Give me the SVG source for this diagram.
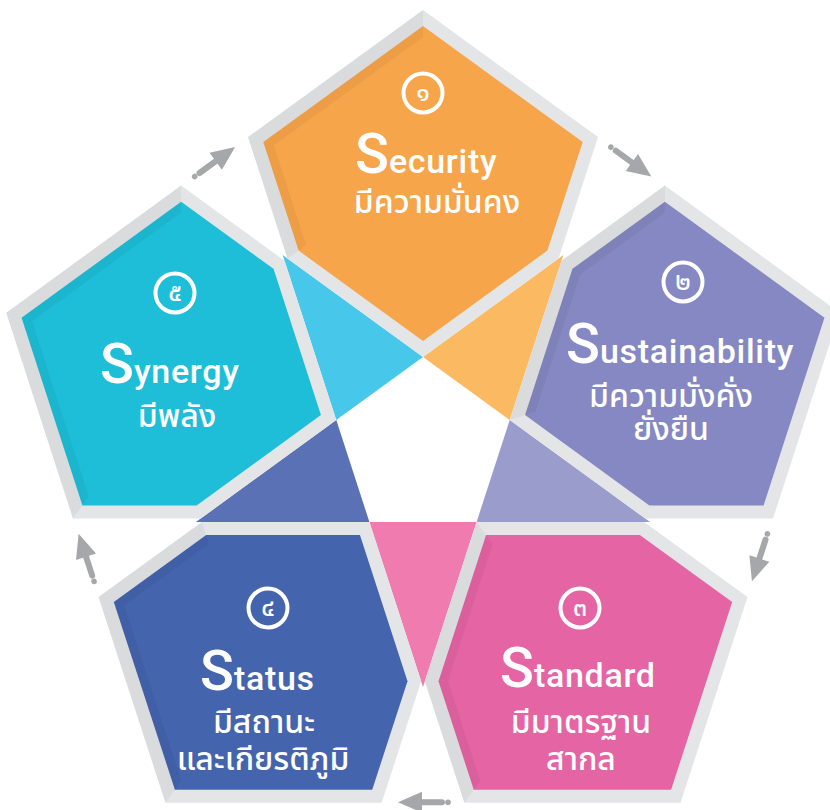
<svg xmlns="http://www.w3.org/2000/svg" xmlns:xlink="http://www.w3.org/1999/xlink" width="830" height="810" viewBox="0 0 830 810">
<style>
.en{font-family:Roboto,"Noto Sans",sans-serif;font-weight:500;fill:#fff;font-size:34px;letter-spacing:0.7px}
.big{font-size:56px;letter-spacing:0}
.th{font-family:"Noto Sans Thai","Noto Sans","DejaVu Sans",sans-serif;font-weight:500;fill:#fff;font-size:32px;text-anchor:middle}
.num{font-family:"Noto Sans Thai","Noto Sans","DejaVu Sans",sans-serif;font-weight:500;fill:#fff;font-size:25px;text-anchor:middle}
.ring{fill:none;stroke:#fff;stroke-width:4}
.frame{fill:#e4e5e7}
.shade{fill:#000;fill-opacity:0.045}
.arrow{fill:#a6a7aa}
</style>
<defs>
<polygon id="outer" points="0,-438.2 175,-311.2 135.5,-189.6 0,-91.2 -135.5,-189.6 -175,-311.2"/>
<polygon id="inner" points="0,-422.1 159.7,-306.2 124.4,-197.6 0,-107.3 -124.4,-197.6 -159.7,-306.2"/>
<polygon id="tri" points="0,-91.2 86.7,-28.2 140.4,-193.2"/>
<g id="band4" class="shade">
<polygon points="-135.5,-189.6 -175,-311.2 0,-438.2 0,-422.1 -159.7,-306.2 -124.4,-197.6"/>
<polygon points="-124.4,-197.6 -159.7,-306.2 0,-422.1 0,-410.98 -149.1,-302.8 -116.75,-203.16"/>
</g>
<g id="band3" class="shade">
<polygon points="0,-91.2 -135.5,-189.6 -175,-311.2 -159.7,-306.2 -124.4,-197.6 0,-107.3"/>
<polygon points="0,-107.3 -124.4,-197.6 -159.7,-306.2 -149.1,-302.8 -116.75,-203.16 0,-118.42"/>
</g>
<g id="band1" class="shade">
<polygon points="175,-311.2 135.5,-189.6 0,-91.2 0,-107.3 124.4,-197.6 159.7,-306.2"/>
<polygon points="159.7,-306.2 124.4,-197.6 0,-107.3 0,-118.42 116.75,-203.16 149.1,-302.8"/>
</g>
<g id="band0" class="shade">
<polygon points="0,-438.2 175,-311.2 135.5,-189.6 124.4,-197.6 159.7,-306.2 0,-422.1"/>
<polygon points="0,-422.1 159.7,-306.2 124.4,-197.6 116.75,-203.16 149.1,-302.8 0,-410.98"/>
</g>
<g id="band5" class="shade">
<polygon points="-175,-311.2 0,-438.2 175,-311.2 159.7,-306.2 0,-422.1 -159.7,-306.2"/>
<polygon points="-159.7,-306.2 0,-422.1 159.7,-306.2 149.1,-302.8 0,-410.98 -149.1,-302.8"/>
</g>
<g id="arrow">
<circle cx="-25" cy="0" r="2.8"/>
<path d="M-19,-3 L3,-3 L3,3 L-19,3 A3,3 0 0 1 -19,-3 Z"/>
<polygon points="1,-10.5 25,0 1,10.5"/>
</g>
</defs>
<g id="triangles">
<use xlink:href="#tri" fill="#fbb962" transform="translate(423 448.2)"/>
<use xlink:href="#tri" fill="#9a9dcc" transform="translate(423 448.2) rotate(72)"/>
<use xlink:href="#tri" fill="#f07bae" transform="translate(423 448.2) rotate(144)"/>
<use xlink:href="#tri" fill="#5a71b6" transform="translate(423 448.2) rotate(216)"/>
<use xlink:href="#tri" fill="#47c7e9" transform="translate(423 448.2) rotate(288)"/>
</g>
<g id="node-security">
<g transform="translate(423 448.2)">
<use xlink:href="#outer" class="frame"/>
<use xlink:href="#inner" fill="#f7a54a"/>
<use xlink:href="#band4"/>
</g>
<circle class="ring" cx="423" cy="93" r="19.5"/>
<text class="num" x="423" y="101">๑</text>
<text class="en" x="355" y="173"><tspan class="big">S</tspan>ecurity</text>
<text class="th" x="437" y="213">มีความมั่นคง</text>
</g>
<g id="node-sustainability">
<g transform="translate(423 448.2) rotate(72)">
<use xlink:href="#outer" class="frame"/>
<use xlink:href="#inner" fill="#8588c2"/>
<use xlink:href="#band3"/>
</g>
<circle class="ring" cx="683" cy="282" r="19.5"/>
<text class="num" x="683" y="290">๒</text>
<text class="en" x="566" y="363"><tspan class="big">S</tspan>ustainability</text>
<text class="th"><tspan x="671" y="407">มีความมั่งคั่ง</tspan><tspan x="671" y="440">ยั่งยืน</tspan></text>
</g>
<g id="node-standard">
<g transform="translate(423 448.2) rotate(144)">
<use xlink:href="#outer" class="frame"/>
<use xlink:href="#inner" fill="#e464a4"/>
<use xlink:href="#band1"/>
</g>
<circle class="ring" cx="580" cy="608" r="19.5"/>
<text class="num" x="580" y="616">๓</text>
<text class="en" x="500" y="687"><tspan class="big">S</tspan>tandard</text>
<text class="th"><tspan x="581" y="733">มีมาตรฐาน</tspan><tspan x="581" y="770">สากล</tspan></text>
</g>
<g id="node-status">
<g transform="translate(423 448.2) rotate(216)">
<use xlink:href="#outer" class="frame"/>
<use xlink:href="#inner" fill="#4464ae"/>
<use xlink:href="#band0"/>
</g>
<circle class="ring" cx="268" cy="608" r="19.5"/>
<text class="num" x="268" y="616">๔</text>
<text class="en" x="200" y="690"><tspan class="big">S</tspan>tatus</text>
<text class="th"><tspan x="264" y="733">มีสถานะ</tspan><tspan x="263" y="770">และเกียรติภูมิ</tspan></text>
</g>
<g id="node-synergy">
<g transform="translate(423 448.2) rotate(288)">
<use xlink:href="#outer" class="frame"/>
<use xlink:href="#inner" fill="#1ebed8"/>
<use xlink:href="#band5"/>
</g>
<circle class="ring" cx="175" cy="293" r="19.5"/>
<text class="num" x="175" y="301">๕</text>
<text class="en" x="100" y="383"><tspan class="big">S</tspan>ynergy</text>
<text class="th" x="177" y="427">มีพลัง</text>
</g>
<g id="connectors" class="arrow">
<use xlink:href="#arrow" transform="translate(423 448.2) rotate(90) translate(354 0) rotate(90)"/>
<use xlink:href="#arrow" transform="translate(423 448.2) rotate(162) translate(354 0) rotate(90)"/>
<use xlink:href="#arrow" transform="translate(423 448.2) rotate(234) translate(354 0) rotate(90)"/>
<use xlink:href="#arrow" transform="translate(423 448.2) rotate(306) translate(354 0) rotate(90)"/>
<use xlink:href="#arrow" transform="translate(423 448.2) rotate(18) translate(354 0) rotate(90)"/>
</g>
</svg>
